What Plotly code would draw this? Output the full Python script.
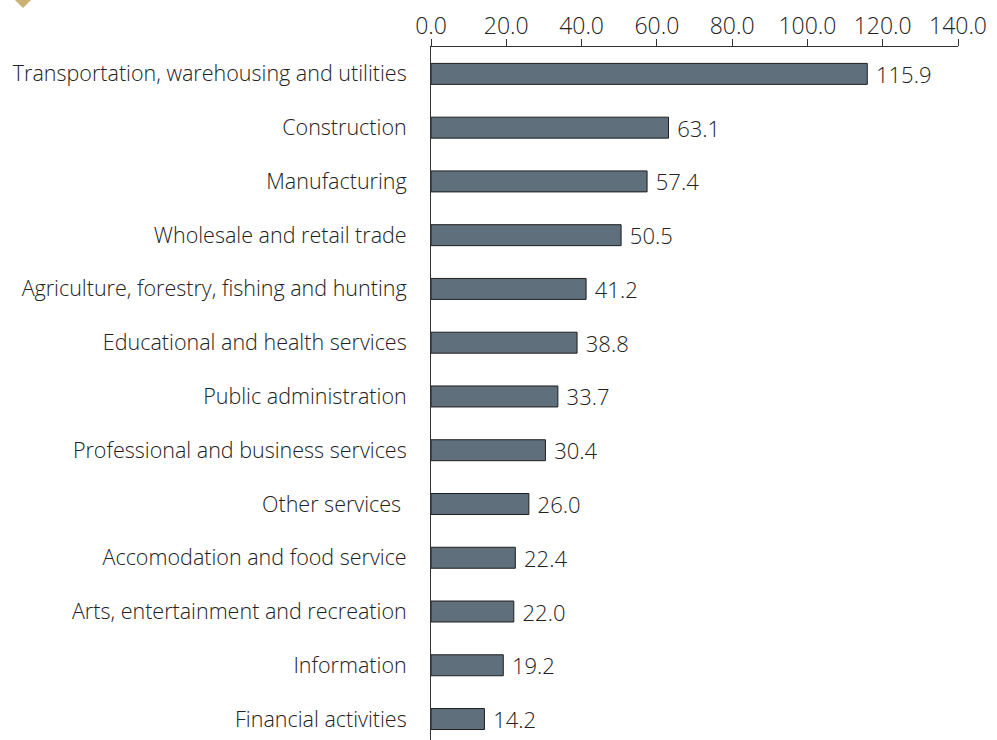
import plotly.graph_objects as go

categories = [
    "Transportation, warehousing and utilities",
    "Construction",
    "Manufacturing",
    "Wholesale and retail trade",
    "Agriculture, forestry, fishing and hunting",
    "Educational and health services",
    "Public administration",
    "Professional and business services",
    "Other services\u00a0",
    "Accomodation and food service",
    "Arts, entertainment and recreation",
    "Information",
    "Financial activities",
]
values = [115.9, 63.1, 57.4, 50.5, 41.2, 38.8, 33.7, 30.4, 26.0, 22.4, 22.0, 19.2, 14.2]
tick_vals = [0, 20, 40, 60, 80, 100, 120, 140]
tick_text = ["0.0", "20.0", "40.0", "60.0", "80.0", "100.0", "120.0", "140.0"]

FONT = "Open Sans"
W, H = 997, 740
L, R, T, B = 431, 39, 47, 0

fig = go.Figure(go.Bar(
    y=categories, x=values, orientation="h",
    marker=dict(color="#5f6f7b", line=dict(color="#1e1e1e", width=1)),
    width=0.39,
    text=["\u00a0" + f"{v:.1f}" for v in values], textposition="outside",
    constraintext="none",
    textfont=dict(family=FONT, size=22, color="#222222", weight=300),
    cliponaxis=False,
))

pw = W - L - R
ph = H - T - B
def px(x):
    return (x - L) / pw
def py(y):
    return (H - B - y) / ph

cx, cy, d = 23, -2, 10
path = (f"M {px(cx)} {py(cy-d)} L {px(cx+d)} {py(cy)} "
        f"L {px(cx)} {py(cy+d)} L {px(cx-d)} {py(cy)} Z")

fig.update_layout(
    width=W, height=H,
    margin=dict(l=L, r=R, t=T, b=B, pad=0),
    paper_bgcolor="white", plot_bgcolor="white",
    font=dict(family=FONT, size=20, color="#222222", weight=300),
    showlegend=False,
    shapes=[dict(type="path", path=path, xref="paper", yref="paper",
                 fillcolor="#c9b274", line=dict(width=0), layer="above")],
    xaxis=dict(
        side="top", range=[0, 140], tickvals=tick_vals, ticktext=tick_text,
        showgrid=False, zeroline=False, showline=True, linecolor="#333333",
        linewidth=1, ticks="outside", ticklen=7, tickcolor="#333333",
        ticklabelstandoff=-4,
        tickfont=dict(family=FONT, size=23, color="#222222", weight=300),
    ),
    yaxis=dict(
        categoryorder="array", categoryarray=categories,
        range=[12.39, -0.5], showgrid=False, zeroline=False,
        showline=True, linecolor="#333333", linewidth=1,
        ticks="", ticklabelstandoff=19,
        tickfont=dict(family=FONT, size=21.5, color="#222222", weight=300),
    ),
)

fig.write_html("out.html", config={"displayModeBar": False},
               post_script="document.body.style.margin='0';")
